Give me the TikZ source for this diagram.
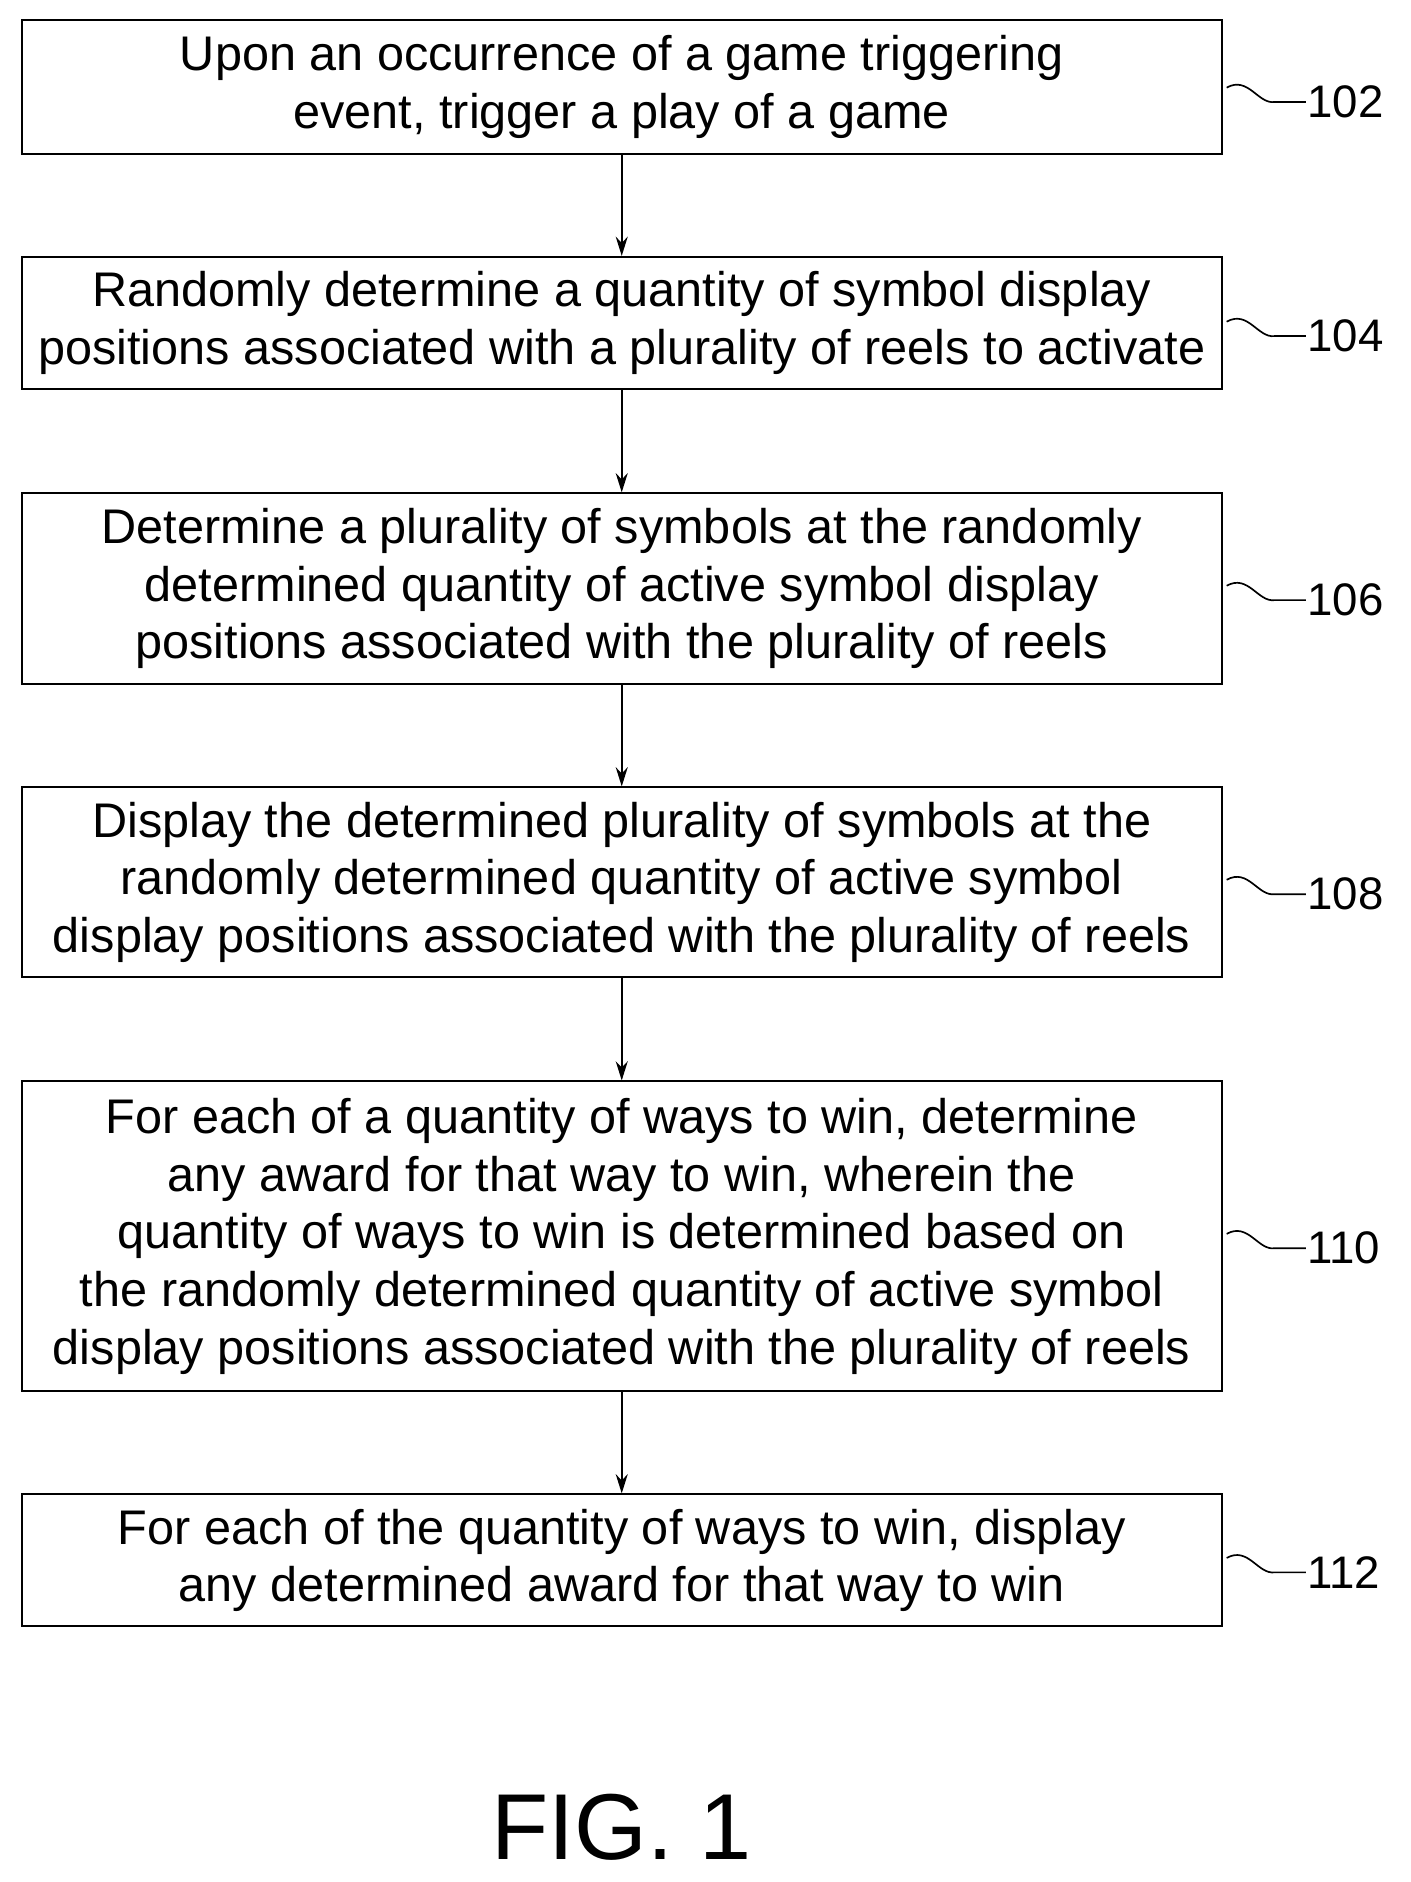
\documentclass[tikz,border=0pt]{standalone}
\usepackage{fontspec}
\setmainfont{Liberation Sans}
\usetikzlibrary{arrows.meta}
\begin{document}
\begin{tikzpicture}[x=1pt,y=-1pt,
  stepbox/.style={draw,line width=1.6pt,minimum width=1000pt,align=center,font=\fontsize{40.5}{48}\selectfont,inner sep=0pt},
  arr/.style={-{Stealth[length=16pt,width=10pt]},line width=1.4pt},
  lbl/.style={font=\fontsize{38}{40}\selectfont,anchor=west,inner sep=0pt},
  sq/.style={line width=1.4pt}]
\useasboundingbox (0,0) rectangle (1175,1568);
\node[stepbox,minimum height=111pt] (b102) at (518,72.5) {Upon an occurrence of a game triggering\\event, trigger a play of a game};
\node[stepbox,minimum height=110pt] (b104) at (518,269) {Randomly determine a quantity of symbol display\\positions associated with a plurality of reels to activate};
\node[stepbox,minimum height=159pt] (b106) at (518,490.5) {Determine a plurality of symbols at the randomly\\determined quantity of active symbol display\\positions associated with the plurality of reels};
\node[stepbox,minimum height=158pt] (b108) at (518,735) {Display the determined plurality of symbols at the\\randomly determined quantity of active symbol\\display positions associated with the plurality of reels};
\node[stepbox,minimum height=258pt] (b110) at (518,1030) {For each of a quantity of ways to win, determine\\any award for that way to win, wherein the\\quantity of ways to win is determined based on\\the randomly determined quantity of active symbol\\display positions associated with the plurality of reels};
\node[stepbox,minimum height=110pt] (b112) at (518,1300) {For each of the quantity of ways to win, display\\any determined award for that way to win};
\draw[arr] (b102) -- (b104);
\draw[arr] (b104) -- (b106);
\draw[arr] (b106) -- (b108);
\draw[arr] (b108) -- (b110);
\draw[arr] (b110) -- (b112);
\foreach \n/\y in {102/85,104/280,106/500,108/745,110/1040,112/1310}{
  \coordinate (s\n) at (1022,\y-12);
  \coordinate (e\n) at (1088,\y);
  \draw[sq] (s\n) .. controls (1040,\y-22) and (1048,\y+2) .. (1062,\y) -- (e\n);
  \node[lbl] (l\n) at (1089,\y) {\n};
}
\node[font=\fontsize{78}{84}\selectfont] (fig) at (518,1522) {FIG. 1};
\end{tikzpicture}
\end{document}
